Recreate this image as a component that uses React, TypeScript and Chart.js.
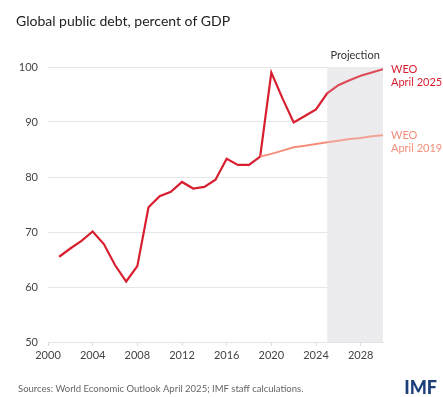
import React, { useEffect, useRef } from "react";
import { Chart, registerables } from "chart.js";

Chart.register(...registerables);

const yearsA = [2001, 2002, 2003, 2004, 2005, 2006, 2007, 2008, 2009, 2010, 2011, 2012, 2013, 2014, 2015, 2016, 2017, 2018, 2019, 2020, 2021, 2022, 2023, 2024, 2025, 2026, 2027, 2028, 2029, 2030];
const weo2025 = [65.5, 67.0, 68.4, 70.1, 67.8, 64.0, 61.0, 63.8, 74.5, 76.5, 77.3, 79.1, 77.9, 78.2, 79.5, 83.3, 82.2, 82.2, 83.7, 99.0, 94.3, 89.9, 91.1, 92.3, 95.2, 96.7, 97.6, 98.4, 99.0, 99.6];
const yearsB = [2019, 2020, 2021, 2022, 2023, 2024, 2025, 2026, 2027, 2028, 2029, 2030];
const weo2019 = [83.7, 84.2, 84.8, 85.4, 85.7, 86.0, 86.3, 86.6, 86.9, 87.1, 87.4, 87.6];
const xTicks = [2000, 2004, 2008, 2012, 2016, 2020, 2024, 2028];
const yTicks = [50, 60, 70, 80, 90, 100];
const projectionStart = 2025;
const projectionEnd = 2030;

const RED = "#d81f30";
const SALMON = "#f48e7a";
const FONT = "Lato, 'Open Sans', sans-serif";

const overlayPlugin = {
  id: "overlay",
  beforeDatasetsDraw(chart: any) {
    const { ctx, chartArea, scales } = chart;
    const x0 = scales.x.getPixelForValue(projectionStart);
    const x1 = scales.x.getPixelForValue(projectionEnd);
    ctx.save();
    ctx.fillStyle = "#ececef";
    ctx.fillRect(x0, chartArea.top, x1 - x0, chartArea.bottom - chartArea.top);
    ctx.restore();
  },
  afterDatasetsDraw(chart: any) {
    const { ctx, chartArea, scales } = chart;
    const x0 = scales.x.getPixelForValue(projectionStart);
    const x1 = scales.x.getPixelForValue(projectionEnd);
    ctx.save();
    ctx.fillStyle = "rgba(236,236,239,0.22)";
    ctx.fillRect(x0, chartArea.top, x1 - x0, chartArea.bottom - chartArea.top);
    ctx.restore();
  },
  afterDraw(chart: any) {
    const { ctx, chartArea, scales } = chart;
    ctx.save();
    ctx.textBaseline = "middle";
    ctx.textAlign = "left";
    ctx.fillStyle = "#222";
    ctx.font = `14px ${FONT}`;
    ctx.fillText("Global public debt, percent of GDP", 16, 21);

    const x0 = scales.x.getPixelForValue(projectionStart);
    const x1 = scales.x.getPixelForValue(projectionEnd);
    ctx.textAlign = "center";
    ctx.fillStyle = "#333";
    ctx.font = `11px ${FONT}`;
    ctx.fillText("Projection", (x0 + x1) / 2, 55);

    ctx.textAlign = "left";
    ctx.font = `11px ${FONT}`;
    const lx = chartArea.right + 8;
    const yA = scales.y.getPixelForValue(weo2025[weo2025.length - 1]);
    ctx.fillStyle = RED;
    ctx.fillText("WEO", lx, yA);
    ctx.fillText("April 2025", lx, yA + 13);
    const yB = scales.y.getPixelForValue(weo2019[weo2019.length - 1]);
    ctx.fillStyle = SALMON;
    ctx.fillText("WEO", lx, yB);
    ctx.fillText("April 2019", lx, yB + 13);

    ctx.fillStyle = "#666";
    ctx.font = `9.5px ${FONT}`;
    ctx.fillText("Sources: World Economic Outlook April 2025; IMF staff calculations.", 18, 389);

    ctx.fillStyle = "#1c3f7a";
    ctx.font = `900 18px ${FONT}`;
    ctx.textAlign = "right";
    ctx.fillText("IMF", 437, 388);
    ctx.restore();
  },
};

export default function App() {
  const ref = useRef<HTMLCanvasElement | null>(null);
  useEffect(() => {
    document.body.style.margin = "0";
    const canvas = ref.current!;
    const chart = new Chart(canvas, {
      type: "line",
      data: {
        datasets: [
          {
            label: "WEO April 2019",
            data: yearsB.map((x, i) => ({ x, y: weo2019[i] })),
            borderColor: SALMON,
            borderWidth: 2,
            pointRadius: 0,
            tension: 0,
          },
          {
            label: "WEO April 2025",
            data: yearsA.map((x, i) => ({ x, y: weo2025[i] })),
            borderColor: RED,
            borderWidth: 2.2,
            pointRadius: 0,
            tension: 0,
          },
        ],
      },
      options: {
        animation: false,
        responsive: false,
        maintainAspectRatio: false,
        layout: { padding: { top: 67, right: 60, left: 0, bottom: 0 } },
        plugins: { legend: { display: false }, tooltip: { enabled: false } },
        scales: {
          x: {
            type: "linear",
            min: 2000,
            max: 2030,
            afterBuildTicks(scale: any) {
              scale.ticks = xTicks.map((v) => ({ value: v }));
            },
            afterFit(scale: any) {
              scale.height = 55;
            },
            grid: { drawOnChartArea: false, color: "#dddddd", tickLength: 4 },
            border: { color: "#e3e3e3" },
            ticks: {
              color: "#444",
              font: { family: FONT, size: 11 },
              padding: 3,
              maxRotation: 0,
              callback: (v: any) => String(v),
            },
          },
          y: {
            min: 50,
            max: 100,
            afterBuildTicks(scale: any) {
              scale.ticks = yTicks.map((v) => ({ value: v }));
            },
            afterFit(scale: any) {
              scale.width = 48;
            },
            grid: { color: "#e6e6e6", drawTicks: false, lineWidth: 1 },
            border: { display: false },
            ticks: {
              color: "#444",
              font: { family: FONT, size: 11 },
              padding: 10,
            },
          },
        },
      },
      plugins: [overlayPlugin],
    } as any);
    return () => chart.destroy();
  }, []);
  return (
    <div style={{ width: 443, height: 397 }}>
      <canvas ref={ref} width={443} height={397} style={{ width: 443, height: 397, display: "block" }} />
    </div>
  );
}
